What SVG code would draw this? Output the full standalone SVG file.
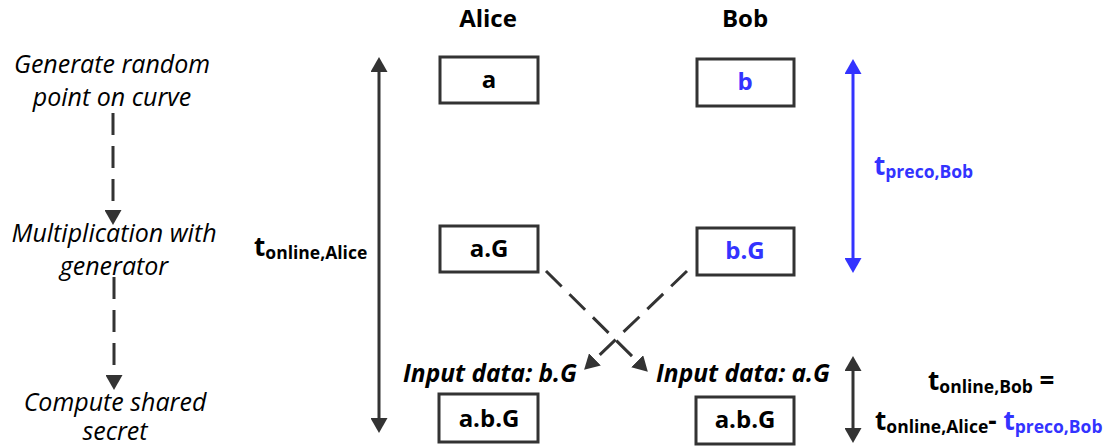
<svg xmlns="http://www.w3.org/2000/svg" width="1111" height="447" viewBox="0 0 1111 447">
  <style>
    text { font-family: "Open Sans", "Liberation Sans", sans-serif; fill: #000; }
    .step { font-size: 25px; font-style: italic; text-anchor: middle; }
    .head { font-size: 24px; font-weight: bold; text-anchor: middle; }
    .val { font-size: 24px; font-weight: bold; text-anchor: middle; }
    .input { font-size: 24.5px; font-weight: bold; font-style: italic; }
    .t { font-size: 26px; font-weight: bold; }
    .sub { font-size: 17.5px; }
    .blue { fill: #3333ff; }
    .box { fill: #fff; stroke: #333; stroke-width: 3; }
    .line { stroke: #333; stroke-width: 3; fill: none; }
    .dash { stroke-dasharray: 22 11; }
    .bline { stroke: #3333ff; stroke-width: 3; fill: none; }
  </style>
  <defs>
    <marker id="ah" viewBox="0 0 15 17" refX="11" refY="8.5" markerWidth="15" markerHeight="17" markerUnits="userSpaceOnUse" orient="auto-start-reverse">
      <path d="M0,0 L15,8.5 L0,17 Z" fill="#333"/>
    </marker>
    <marker id="ahb" viewBox="0 0 15 17" refX="11" refY="8.5" markerWidth="15" markerHeight="17" markerUnits="userSpaceOnUse" orient="auto-start-reverse">
      <path d="M0,0 L15,8.5 L0,17 Z" fill="#3333ff"/>
    </marker>
  </defs>

  <!-- step labels (two lines each) -->
  <g id="step-generate">
    <text class="step" x="112" y="73">Generate random<tspan x="112" dy="33">point on curve</tspan></text>
  </g>
  <g id="step-multiply">
    <text class="step" x="114" y="242">Multiplication with<tspan x="114" dy="33">generator</tspan></text>
  </g>
  <g id="step-compute">
    <text class="step" x="115" y="411">Compute shared<tspan x="115" dy="29">secret</tspan></text>
  </g>

  <!-- column headings -->
  <g id="alice-head"><text class="head" x="488" y="27">Alice</text></g>
  <g id="bob-head"><text class="head" x="745" y="27">Bob</text></g>

  <!-- Alice nodes -->
  <g id="alice-a">
    <rect class="box" x="440" y="57" width="98" height="46"/>
    <text class="val" x="489" y="88">a</text>
  </g>
  <g id="alice-aG">
    <rect class="box" x="440" y="226" width="98" height="46"/>
    <text class="val" x="489" y="257">a.G</text>
  </g>
  <g id="alice-abG">
    <rect class="box" x="439" y="394" width="99" height="48"/>
    <text class="val" x="489" y="427">a.b.G</text>
  </g>

  <!-- Bob nodes -->
  <g id="bob-b">
    <rect class="box" x="697" y="59" width="97" height="47"/>
    <text class="val blue" x="745" y="90">b</text>
  </g>
  <g id="bob-bG">
    <rect class="box" x="697" y="228" width="97" height="47"/>
    <text class="val blue" x="745" y="259">b.G</text>
  </g>
  <g id="bob-abG">
    <rect class="box" x="696" y="397" width="98" height="47"/>
    <text class="val" x="745" y="428">a.b.G</text>
  </g>

  <!-- input labels -->
  <g id="input-bG"><text class="input" x="403" y="382">Input data: b.G</text></g>
  <g id="input-aG"><text class="input" x="656" y="382">Input data: a.G</text></g>

  <!-- timing labels -->
  <g id="t-online-alice">
    <text class="t" x="254" y="256">t<tspan class="sub" dy="3">online,Alice</tspan></text>
  </g>
  <g id="t-preco-bob">
    <text class="t blue" x="874" y="175">t<tspan class="sub" dy="3">preco,Bob</tspan></text>
  </g>
  <g id="t-online-bob">
    <text class="t" x="928" y="390">t<tspan class="sub" dy="3">online,Bob</tspan><tspan dy="-3"> =</tspan></text>
    <text class="t" x="875" y="430">t<tspan class="sub" dy="3">online,Alice</tspan><tspan dy="-3">- </tspan><tspan class="blue">t</tspan><tspan class="sub blue" dy="3">preco,Bob</tspan></text>
  </g>

  <!-- connectors -->
  <g id="connectors">
    <line class="line dash" x1="113" y1="113" x2="113" y2="221" marker-end="url(#ah)"/>
    <line class="line dash" x1="114" y1="277" x2="114" y2="386" marker-end="url(#ah)"/>
    <line class="line" x1="379" y1="61" x2="379" y2="429" marker-start="url(#ah)" marker-end="url(#ah)"/>
    <line class="bline" x1="853" y1="63" x2="853" y2="269" marker-start="url(#ahb)" marker-end="url(#ahb)"/>
    <line class="line" x1="853" y1="360" x2="853" y2="439" marker-start="url(#ah)" marker-end="url(#ah)"/>
    <line class="line dash" x1="546" y1="271" x2="645" y2="369" marker-end="url(#ah)"/>
    <line class="line dash" x1="687" y1="271" x2="587" y2="367" marker-end="url(#ah)"/>
  </g>
</svg>
